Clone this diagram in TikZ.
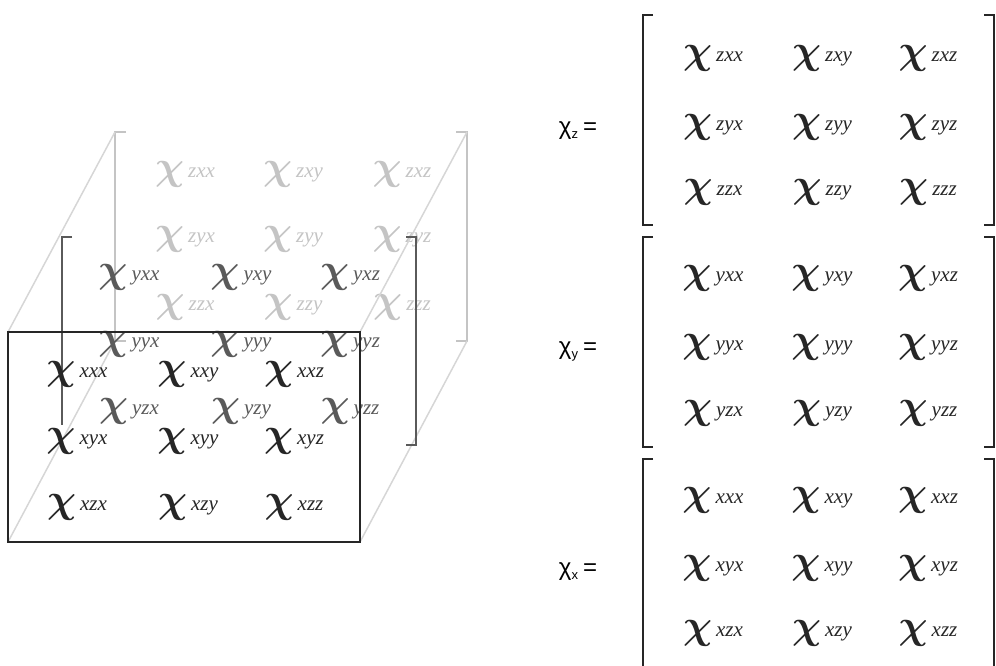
\documentclass[tikz,border=0pt]{standalone}
\usepackage{fontspec}
\usepackage{graphicx}
\usepackage{bm}
\usetikzlibrary{calc}
\setmainfont{Liberation Serif}
\newfontfamily\sansf{Liberation Sans}
\definecolor{frontc}{HTML}{262626}
\definecolor{midc}{HTML}{5A5A5A}
\definecolor{backc}{HTML}{C4C4C4}
\definecolor{diagc}{HTML}{D6D6D6}
\newcommand{\chient}[1]{\raisebox{-2pt}{\scalebox{4.05}{$\bm{\chi}$}}\hspace{4pt}{\fontsize{21}{21}\selectfont\itshape #1}}
\newcommand{\chilab}[1]{{\sansf\fontsize{24}{24}\selectfont χ\raisebox{-4pt}{\fontsize{13}{13}\selectfont #1}\hspace{5pt}=}}
\tikzset{
  ent/.style={inner sep=0pt},
  backbr/.style={draw=backc,line width=1.5pt},
  midbr/.style={draw=midc,line width=2pt},
  frontbr/.style={draw=frontc,line width=2pt},
  diag/.style={draw=diagc,line width=1.5pt},
  rbr/.style={draw=black!85,line width=2.4pt},
  lab/.style={inner sep=0pt}
}
\begin{document}
\begin{tikzpicture}[x=1pt,y=-1pt]
\useasboundingbox (0,0) rectangle (996,666);
% ---------- left: back (z) layer ----------
\coordinate (ZTL) at (115,132);
\coordinate (ZBL) at (115,341);
\coordinate (ZTR) at (467,132);
\coordinate (ZBR) at (467,341);
\draw[backbr] ($(ZTL)+(11,0)$) -- (ZTL) -- (ZBL) -- ($(ZBL)+(11,0)$);
\draw[backbr] ($(ZTR)+(-11,0)$) -- (ZTR) -- (ZBR) -- ($(ZBR)+(-11,0)$);
\foreach \a/\yy in {x/174,y/239,z/307}
  \foreach \b/\xx in {x/185,y/293,z/402}
    \node[ent,text=backc] (Bz\a\b) at (\xx,\yy) {\chient{z\a\b}};
% ---------- front corners ----------
\coordinate (FTL) at (8,332);
\coordinate (FBL) at (8,542);
\coordinate (FTR) at (360,332);
\coordinate (FBR) at (360,542);
% diagonals
\draw[diag] (FTL) -- (ZTL);
\draw[diag] (FBL) -- (ZBL);
\draw[diag] (FTR) -- (ZTR);
\draw[diag] (FBR) -- (ZBR);
% ---------- left: middle (y) layer ----------
\coordinate (YTL) at (62,237);
\coordinate (YBL) at (62,425);
\coordinate (YTR) at (416,237);
\coordinate (YBR) at (416,445);
\draw[midbr] ($(YTL)+(10,0)$) -- (YTL) -- (YBL);
\draw[midbr] ($(YTR)+(-10,0)$) -- (YTR) -- (YBR) -- ($(YBR)+(-10,0)$);
\foreach \a/\yy in {x/277,y/344,z/411}
  \foreach \b/\xx in {x/129,y/241,z/350}
    \node[ent,text=midc] (My\a\b) at (\xx,\yy) {\chient{y\a\b}};
% ---------- left: front (x) layer ----------
\draw[frontbr] (FTL) rectangle (FBR);
\foreach \a/\yy in {x/374,y/441,z/507}
  \foreach \b/\xx in {x/77,y/188,z/294}
    \node[ent,text=frontc] (Fx\a\b) at (\xx,\yy) {\chient{x\a\b}};
% ---------- right: three matrices ----------
\foreach \m/\t/\bo in {z/15/225,y/237/447,x/459/672}{
  \coordinate (R\m TL) at (643,\t);
  \coordinate (R\m BL) at (643,\bo);
  \coordinate (R\m TR) at (994,\t);
  \coordinate (R\m BR) at (994,\bo);
  \draw[rbr] ($(R\m TL)+(10,0)$) -- (R\m TL) -- (R\m BL) -- ($(R\m BL)+(10,0)$);
  \draw[rbr] ($(R\m TR)+(-10,0)$) -- (R\m TR) -- (R\m BR) -- ($(R\m BR)+(-10,0)$);
}
\foreach \a/\yy in {x/58,y/127,z/192}
  \foreach \b/\xx in {x/713,y/822,z/928}
    \node[ent,text=black!85] (Rz\a\b) at (\xx,\yy) {\chient{z\a\b}};
\foreach \a/\yy in {x/278,y/347,z/413}
  \foreach \b/\xx in {x/713,y/822,z/928}
    \node[ent,text=black!85] (Ry\a\b) at (\xx,\yy) {\chient{y\a\b}};
\foreach \a/\yy in {x/500,y/568,z/633}
  \foreach \b/\xx in {x/713,y/822,z/928}
    \node[ent,text=black!85] (Rx\a\b) at (\xx,\yy) {\chient{x\a\b}};
\node[lab] (labz) at (578,131) {\chilab{z}};
\node[lab] (laby) at (578,351) {\chilab{y}};
\node[lab] (labx) at (578,572) {\chilab{x}};
\end{tikzpicture}
\end{document}
